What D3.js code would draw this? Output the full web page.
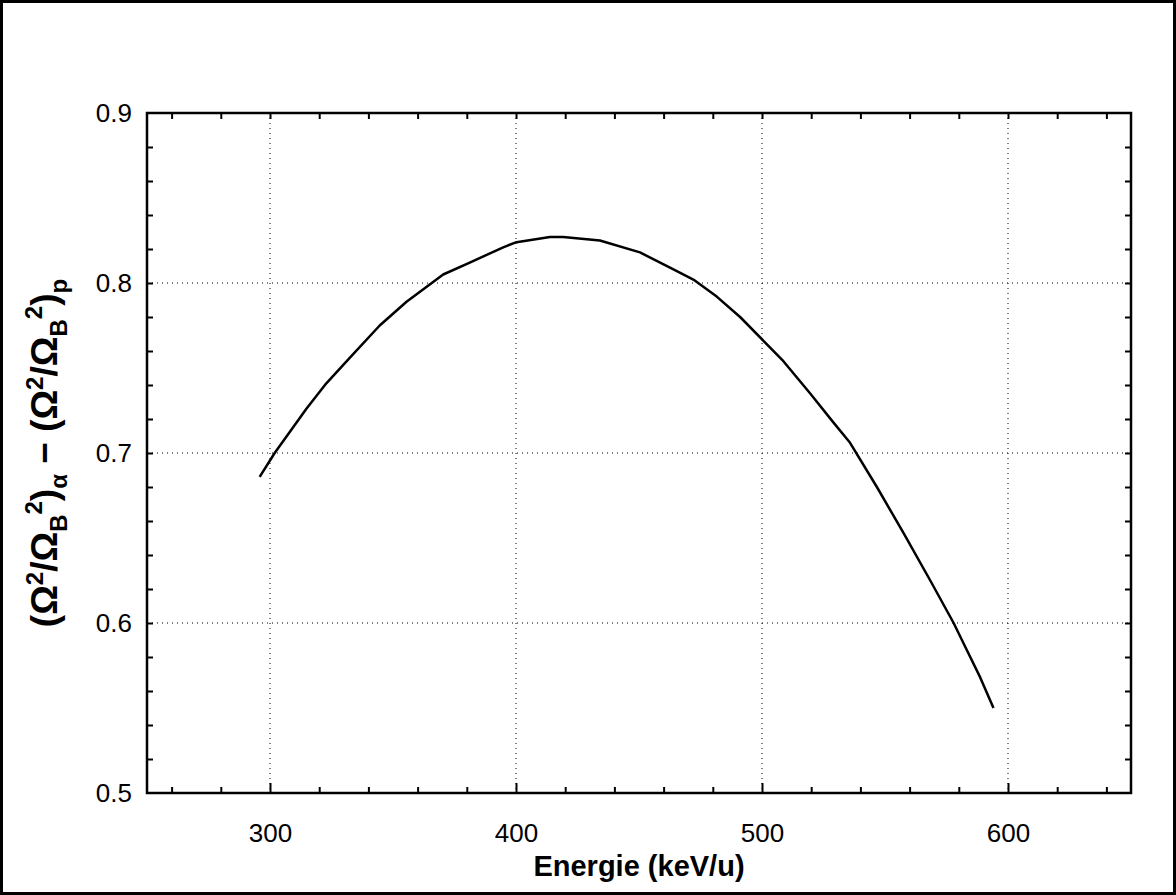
<!DOCTYPE html>
<html>
<head>
<meta charset="utf-8">
<script src="https://cdn.jsdelivr.net/npm/d3@7"></script>
<style>
  html, body { margin: 0; padding: 0; background: #fff; }
  svg { display: block; font-family: "Liberation Sans", Arial, sans-serif; }
  .grid line { stroke: #000; stroke-width: 1; stroke-dasharray: 1 4; }
</style>
</head>
<body>
<svg id="chart" width="1176" height="895"></svg>
<script>
// energy (keV/u) vs. difference of normalised squared frequencies
const energy = [295.8, 301.9, 314.8, 322.9, 332.4, 344.6, 355.5, 370.4, 381.2, 394.8,
  400.2, 413.8, 419.2, 434.1, 450.4, 464.0, 472.1, 481.6, 491.1, 500.6,
  508.7, 519.6, 529.0, 535.8, 546.7, 557.5, 568.4, 577.9, 583.3, 588.7, 594.1];
const diff = [0.686, 0.700, 0.726, 0.741, 0.756, 0.775, 0.789, 0.805, 0.812, 0.821,
  0.824, 0.827, 0.827, 0.825, 0.818, 0.808, 0.802, 0.792, 0.780, 0.766,
  0.754, 0.735, 0.718, 0.706, 0.680, 0.653, 0.625, 0.600, 0.584, 0.568, 0.550];

const xTicks = [300, 400, 500, 600];
const yTicks = [0.5, 0.6, 0.7, 0.8, 0.9];
const xMinor = d3.range(260, 650, 20);
const yMinor = d3.range(0.52, 0.9, 0.02);

const W = 1176, H = 895;
const pL = 147, pR = 1131, pT = 113, pB = 793;

const svg = d3.select("#chart");

// outer frame
svg.append("rect")
  .attr("x", 1.5).attr("y", 1.5)
  .attr("width", W - 3).attr("height", H - 3)
  .attr("fill", "none").attr("stroke", "#000").attr("stroke-width", 3);

const x = d3.scaleLinear().domain([250, 650]).range([pL, pR]);
const y = d3.scaleLinear().domain([0.5, 0.9]).range([pB, pT]);

// dotted grid at labelled ticks
const grid = svg.append("g").attr("class", "grid");
grid.selectAll("line.gx")
  .data(xTicks).enter().append("line")
  .attr("x1", d => x(d)).attr("x2", d => x(d))
  .attr("y1", pT).attr("y2", pB);
grid.selectAll("line.gy")
  .data(yTicks.filter(d => d > 0.5 && d < 0.9)).enter().append("line")
  .attr("x1", pL).attr("x2", pR)
  .attr("y1", d => y(d)).attr("y2", d => y(d));

// axes, ticks pointing inward on all four sides
function styleAxis(g) {
  g.selectAll(".domain").remove();
  g.selectAll(".tick line").attr("stroke", "#000").attr("stroke-width", 2);
  g.selectAll(".tick text").attr("fill", "#000").attr("font-size", 26)
    .attr("font-family", "Liberation Sans, Arial, sans-serif");
}
const fmtY = d3.format(".1f");

svg.append("g").attr("transform", `translate(0,${pB})`)
  .call(d3.axisBottom(x).tickValues(xMinor.filter(d => d % 100 !== 0)).tickSize(-6).tickFormat(""))
  .call(styleAxis);
svg.append("g").attr("transform", `translate(0,${pB})`)
  .call(d3.axisBottom(x).tickValues(xTicks).tickSize(-10).tickPadding(31).tickFormat(d3.format("d")))
  .call(styleAxis);
svg.append("g").attr("transform", `translate(0,${pT})`)
  .call(d3.axisTop(x).tickValues(xMinor).tickSize(-6).tickFormat(""))
  .call(styleAxis);

svg.append("g").attr("transform", `translate(${pL},0)`)
  .call(d3.axisLeft(y).tickValues(yMinor).tickSize(-6).tickFormat(""))
  .call(styleAxis);
svg.append("g").attr("transform", `translate(${pL},0)`)
  .call(d3.axisLeft(y).tickValues(yTicks).tickSize(0).tickPadding(15).tickFormat(fmtY))
  .call(styleAxis);
svg.append("g").attr("transform", `translate(${pR},0)`)
  .call(d3.axisRight(y).tickValues(yMinor).tickSize(-6).tickFormat(""))
  .call(styleAxis);

// plot frame
svg.append("rect")
  .attr("x", pL).attr("y", pT)
  .attr("width", pR - pL).attr("height", pB - pT)
  .attr("fill", "none").attr("stroke", "#000").attr("stroke-width", 2.5);

// curve
const pts = energy.map((e, i) => [e, diff[i]]);
svg.append("path")
  .datum(pts)
  .attr("fill", "none").attr("stroke", "#000").attr("stroke-width", 2.5)
  .attr("stroke-linejoin", "round")
  .attr("d", d3.line().x(d => x(d[0])).y(d => y(d[1])));

// x label
svg.append("text")
  .attr("x", (pL + pR) / 2).attr("y", 876)
  .attr("text-anchor", "middle")
  .attr("font-size", 29).attr("font-weight", "bold")
  .text("Energie (keV/u)");

// y label with sub/superscripts
const FS = 37, SS = 24;
const yl = svg.append("text")
  .attr("transform", `translate(57,${(pT + pB) / 2}) rotate(-90)`)
  .attr("text-anchor", "middle")
  .attr("font-size", FS).attr("font-weight", "bold");
const parts = [
  ["(Ω", 0], ["2", -14, SS], ["/Ω", 14], ["B", 10, SS], ["2", -25, SS], [")", 15],
  ["α", 10, SS], [" − (Ω", -10], ["2", -14, SS], ["/Ω", 14], ["B", 10, SS], ["2", -25, SS],
  [")", 15], ["p", 10, SS], ["", -10]
];
parts.forEach(([t, dy, fs]) => {
  yl.append("tspan").attr("dy", dy).attr("font-size", fs || FS).text(t);
});
</script>
</body>
</html>
